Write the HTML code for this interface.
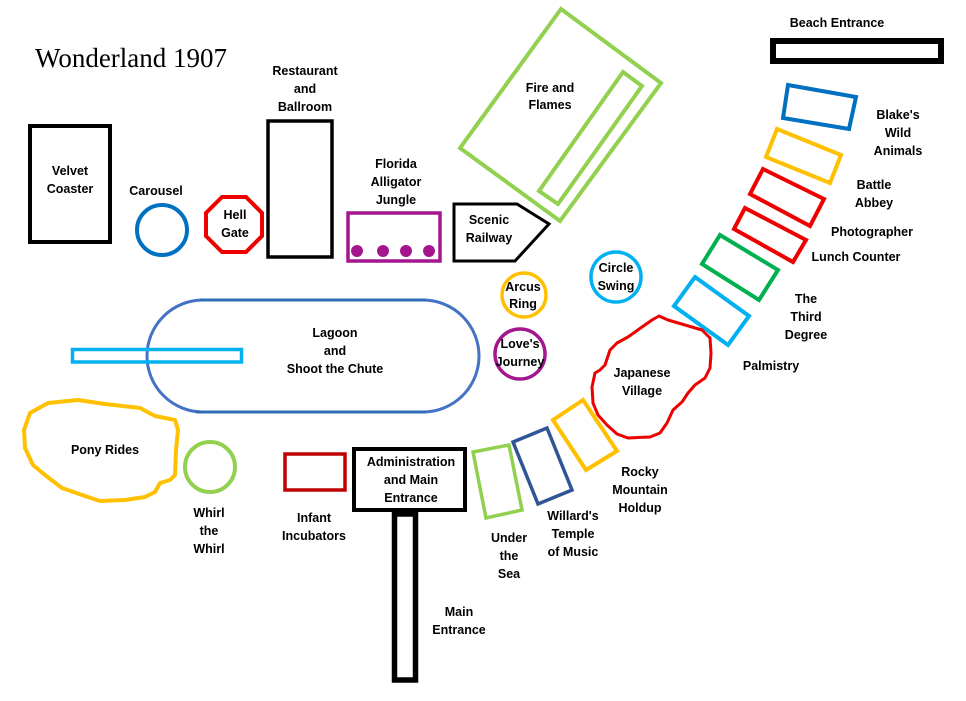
<!DOCTYPE html>
<html><head><meta charset="utf-8"><style>
html,body{margin:0;padding:0;background:#fff;}
svg{display:block;}
text{font-family:"Liberation Sans",sans-serif;font-weight:bold;font-size:12.5px;fill:#000;text-anchor:middle;}
</style></head><body>
<svg width="966" height="701" viewBox="0 0 966 701" xmlns="http://www.w3.org/2000/svg">
<rect width="966" height="701" fill="#fff"/>
<g fill="none" stroke-linejoin="miter">
<!-- Velvet Coaster -->
<rect x="30" y="126" width="80" height="116" stroke="#000" stroke-width="4"/>
<!-- Carousel -->
<circle cx="162" cy="230" r="25" stroke="#0070c0" stroke-width="4"/>
<!-- Hell Gate -->
<polygon points="222,197 246,197 262,213 262,236 246,252 222,252 206,236 206,213" stroke="#ee0000" stroke-width="4"/>
<!-- Restaurant -->
<rect x="268" y="121" width="64" height="136" stroke="#000" stroke-width="3.5"/>
<!-- Florida Alligator Jungle -->
<rect x="348" y="213" width="92" height="48" stroke="#a3168e" stroke-width="3.5"/>
<!-- Scenic Railway -->
<polygon points="454,204 517,204 549,224 515,261 454,261" stroke="#000" stroke-width="3"/>
<!-- Fire and Flames -->
<polygon points="561,9 661,83 560,221 460,148" stroke="#92d050" stroke-width="4"/>
<polygon points="623,72 642,86 558,204 539,191" stroke="#92d050" stroke-width="4"/>
<!-- Beach Entrance -->
<rect x="773" y="41" width="168" height="20" stroke="#000" stroke-width="6"/>
<!-- Right column rectangles -->
<polygon points="788,85 856,97 849,129 783,118" stroke="#0070c0" stroke-width="4"/>
<polygon points="777,129 841,155 830,183 766,157" stroke="#ffc000" stroke-width="4"/>
<polygon points="763,169 824,199 810,226 750,194" stroke="#ee0000" stroke-width="4"/>
<polygon points="745,208 806,240 793,262 734,229" stroke="#ee0000" stroke-width="4"/>
<polygon points="720,235 778,270 759,300 702,264" stroke="#00b050" stroke-width="4"/>
<polygon points="695,277 749,316 728,345 674,306" stroke="#00b0f0" stroke-width="4"/>
<!-- Circle Swing, Arcus Ring, Love's Journey -->
<circle cx="616" cy="277" r="25" stroke="#00b0f0" stroke-width="3.5"/>
<circle cx="524" cy="295" r="22" stroke="#ffc000" stroke-width="3.5"/>
<circle cx="520" cy="354" r="25" stroke="#a3168e" stroke-width="3.5"/>
<!-- Japanese Village -->
<path d="M659,316 L668,320 L685,325 L702,330 L710,338 L711,353 L710,368 L705,378 L695,385 L688,393 L682,402 L673,410 L667,423 L660,433 L650,437 L628,438 L617,434 L607,425 L598,415 L593,403 L592,387 L595,373 L600,370 L605,365 L610,350 L617,343 L628,337 L642,327 L652,320 Z" stroke="#ee0000" stroke-width="3" stroke-linejoin="round"/>
<!-- Bottom arc rectangles -->
<polygon points="583,400 617,451 586,470 553,420" stroke="#ffc000" stroke-width="4"/>
<polygon points="513,442 547,428 572,490 538,504" stroke="#2f5597" stroke-width="3.5"/>
<polygon points="473,452 509,445 522,510 486,518" stroke="#92d050" stroke-width="3.5"/>
<!-- Lagoon -->
<path d="M203,300 L423,300 A56,56 0 0 1 423,412 L203,412 A56,56 0 0 1 203,300 Z" stroke="#4472c4" stroke-width="3"/>
<line x1="200" y1="300" x2="426" y2="300" stroke="#2e6db4" stroke-width="3"/>
<line x1="196" y1="412" x2="426" y2="412" stroke="#2e6db4" stroke-width="3"/>
<!-- Chute bar -->
<rect x="72.5" y="349.5" width="169" height="12.5" stroke="#00b0f0" stroke-width="3.5"/>
<!-- Pony Rides -->
<path d="M30,413 L48,403 L78,400 L105,404 L140,408 L155,416 L175,420 L178,430 L176,450 L175,475 L170,480 L160,483 L155,492 L145,497 L125,500 L100,501 L85,496 L62,488 L45,475 L33,465 L25,448 L24,430 Z" stroke="#ffc000" stroke-width="4" stroke-linejoin="round"/>
<!-- Whirl the Whirl -->
<circle cx="210" cy="467" r="25" stroke="#92d050" stroke-width="4"/>
<!-- Infant Incubators -->
<rect x="285" y="454" width="60" height="36" stroke="#c00000" stroke-width="3.5"/>
<!-- Administration -->
<rect x="354" y="449" width="111" height="61" stroke="#000" stroke-width="4"/>
<!-- Main Entrance pole -->
<rect x="394.5" y="514" width="21" height="166" stroke="#000" stroke-width="5.5"/>
</g>
<!-- Alligator dots -->
<g fill="#a3168e">
<circle cx="357" cy="251" r="6"/><circle cx="383" cy="251" r="6"/><circle cx="406" cy="251" r="6"/><circle cx="429" cy="251" r="6"/>
</g>
<!-- Title -->
<text x="35" y="67" style="font-family:'Liberation Serif',serif;font-weight:normal;font-size:27px;text-anchor:start;">Wonderland 1907</text>
<!-- Labels -->
<text x="837" y="27">Beach Entrance</text>
<text x="305" y="75">Restaurant</text><text x="305" y="93">and</text><text x="305" y="111">Ballroom</text>
<text x="70" y="175">Velvet</text><text x="70" y="193">Coaster</text>
<text x="156" y="195">Carousel</text>
<text x="235" y="219">Hell</text><text x="235" y="237">Gate</text>
<text x="396" y="168">Florida</text><text x="396" y="186">Alligator</text><text x="396" y="204">Jungle</text>
<text x="550" y="92">Fire and</text><text x="550" y="109">Flames</text>
<text x="489" y="224">Scenic</text><text x="489" y="242">Railway</text>
<text x="898" y="119">Blake's</text><text x="898" y="137">Wild</text><text x="898" y="155">Animals</text>
<text x="874" y="189">Battle</text><text x="874" y="207">Abbey</text>
<text x="872" y="236">Photographer</text>
<text x="856" y="261">Lunch Counter</text>
<text x="806" y="303">The</text><text x="806" y="321">Third</text><text x="806" y="339">Degree</text>
<text x="771" y="370">Palmistry</text>
<text x="616" y="272">Circle</text><text x="616" y="290">Swing</text>
<text x="523" y="291">Arcus</text><text x="523" y="308">Ring</text>
<text x="520" y="348">Love's</text><text x="520" y="366">Journey</text>
<text x="642" y="377">Japanese</text><text x="642" y="395">Village</text>
<text x="335" y="337">Lagoon</text><text x="335" y="355">and</text><text x="335" y="373">Shoot the Chute</text>
<text x="105" y="454">Pony Rides</text>
<text x="209" y="517">Whirl</text><text x="209" y="535">the</text><text x="209" y="553">Whirl</text>
<text x="314" y="522">Infant</text><text x="314" y="540">Incubators</text>
<text x="411" y="466">Administration</text><text x="411" y="484">and Main</text><text x="411" y="502">Entrance</text>
<text x="640" y="476">Rocky</text><text x="640" y="494">Mountain</text><text x="640" y="512">Holdup</text>
<text x="573" y="520">Willard's</text><text x="573" y="538">Temple</text><text x="573" y="556">of Music</text>
<text x="509" y="542">Under</text><text x="509" y="560">the</text><text x="509" y="578">Sea</text>
<text x="459" y="616">Main</text><text x="459" y="634">Entrance</text>
</svg>
</body></html>
